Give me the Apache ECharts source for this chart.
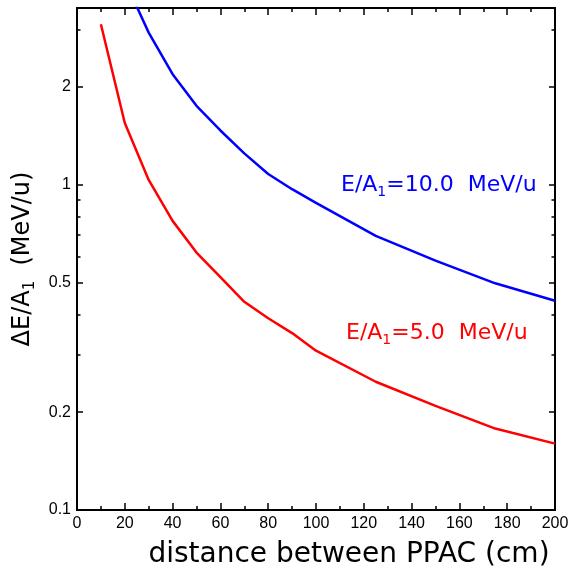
<!DOCTYPE html>
<html><head><meta charset="utf-8">
<script src="https://cdn.jsdelivr.net/npm/echarts@6/dist/echarts.min.js"></script>
<style>html,body{margin:0;padding:0;background:#fff}#c{width:569px;height:570px}</style>
</head><body><div id="c"></div>
<script>
const redX = [10,20,30,40,50,60,70,80,90,100,125,150,175,200];
const redY = [3.12,1.55,1.036,0.775,0.619,0.52,0.437,0.389,0.350,0.309,0.248,0.209,0.178,0.160];
const blueX = [20,30,40,50,60,70,80,90,100,125,150,175,200];
const blueY = [4.25,2.94,2.19,1.75,1.47,1.25,1.08,0.97,0.88,0.697,0.585,0.498,0.44];
const yMajor = [0.1,0.2,0.5,1,2];
const yMinor = [0.3,0.4,0.6,0.7,0.8,0.9,3];
const xTickLabels = [0,20,40,60,80,100,120,140,160,180,200];

const chart = echarts.init(document.getElementById('c'), null, {renderer:'canvas'});
const TF = '"Liberation Sans", Arial, sans-serif';
const NF = '"DejaVu Sans", sans-serif';
const lineStyle = {color:'#000', width:2};
function yAx(pos, ticks, len, labels){
  return {
    type:'log', logBase:10, min:0.1, max:3.5, position:pos, gridIndex:0,
    axisLine:{show:false},
    splitLine:{show:false},
    axisTick:{show:true, inside:true, length:len, customValues:ticks, lineStyle:{color:'#000', width:1.5}},
    axisLabel:{show:labels, customValues:ticks, fontFamily:TF, fontSize:16, color:'#000', margin:6,
      formatter:v=>String(v)}
  };
}
const option = {
  animation:false,
  backgroundColor:'#fff',
  grid:{left:77, right:14, top:8, bottom:60, show:true, borderColor:'#000', borderWidth:2,
        backgroundColor:'transparent', containLabel:false, outerBoundsMode:'none'},
  xAxis:[
    {type:'value', min:0, max:200, interval:20, position:'bottom',
     axisLine:{show:true, lineStyle}, splitLine:{show:false},
     axisTick:{inside:true, length:7, lineStyle:{color:'#000', width:1.5}},
     minorTick:{show:true, splitNumber:2, length:4, lineStyle:{color:'#000', width:1.5}},
     axisLabel:{fontFamily:TF, fontSize:16, color:'#000', margin:6, customValues:xTickLabels},
     name:'distance between PPAC (cm)', nameLocation:'middle', nameGap:31,
     nameTextStyle:{fontFamily:NF, fontSize:28, color:'#000', padding:[0,0,0,66]}},
    {type:'value', min:0, max:200, interval:20, position:'top',
     axisLine:{show:true, lineStyle}, splitLine:{show:false},
     axisTick:{inside:true, length:7, lineStyle:{color:'#000', width:1.5}},
     minorTick:{show:true, splitNumber:2, length:4, lineStyle:{color:'#000', width:1.5}},
     axisLabel:{show:false}}
  ],
  yAxis:[
    Object.assign(yAx('left', yMajor, 6, true), {
      name:'{a|ΔE/A}{s|1}{a|  (MeV/u)}', nameLocation:'middle', nameGap:39, nameRotate:90,
      nameTextStyle:{rich:{a:{fontFamily:NF, fontSize:24, color:'#000', lineHeight:30},
                           s:{fontFamily:NF, fontSize:15, color:'#000', lineHeight:30, padding:[14,0,0,0]}}}
    }),
    yAx('left', yMinor, 3.5, false),
    yAx('right', yMajor, 6, false),
    yAx('right', yMinor, 3.5, false)
  ],
  series:[
    {type:'line', name:'E/A1=5.0 MeV/u', data:redX.map((x,i)=>[x,redY[i]]), xAxisIndex:0, yAxisIndex:0,
     showSymbol:false, clip:true, lineStyle:{color:'#ff0000', width:2.5}, itemStyle:{color:'#ff0000'}},
    {type:'line', name:'E/A1=10.0 MeV/u', data:blueX.map((x,i)=>[x,blueY[i]]), xAxisIndex:0, yAxisIndex:0,
     showSymbol:false, clip:true, lineStyle:{color:'#0000ff', width:2.5}, itemStyle:{color:'#0000ff'}}
  ],
  graphic:[
    {type:'text', left:341, top:172, style:{
      text:'{a|E/A}{s|1}{a|=10.0  MeV/u}',
      rich:{a:{fontFamily:NF, fontSize:22, fill:'#0000ff', lineHeight:27},
            s:{fontFamily:NF, fontSize:14, fill:'#0000ff', lineHeight:27, padding:[13,0,0,0]}}}},
    {type:'text', left:346, top:320, style:{
      text:'{a|E/A}{s|1}{a|=5.0  MeV/u}',
      rich:{a:{fontFamily:NF, fontSize:22, fill:'#ff0000', lineHeight:27},
            s:{fontFamily:NF, fontSize:14, fill:'#ff0000', lineHeight:27, padding:[13,0,0,0]}}}}
  ]
};
chart.setOption(option);
</script></body></html>
